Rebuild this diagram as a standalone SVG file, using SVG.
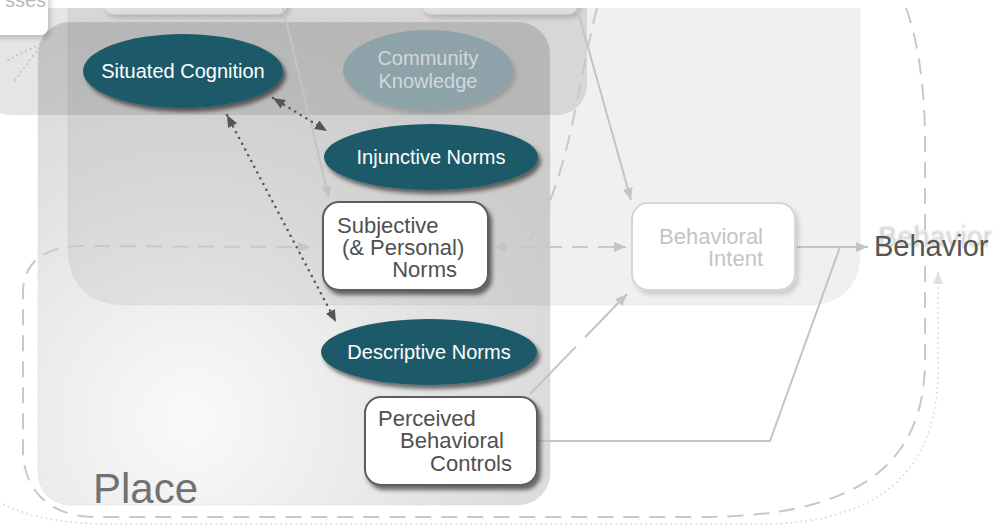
<svg xmlns="http://www.w3.org/2000/svg" width="998" height="527" viewBox="0 0 998 527">
<defs>
<style>
.t{font-family:"Liberation Sans",Arial,Helvetica,sans-serif}
.el{fill:#1e5a6a}
.elt{fill:#ffffff;font-size:20px;text-anchor:middle}
.box{fill:#ffffff;stroke:#5d5d5d;stroke-width:2}
.bt{fill:#505050;font-size:22px}
.dot{fill:none;stroke:#555;stroke-width:2.6;stroke-linecap:round;stroke-dasharray:0 6.5}
.lite{fill:none;stroke:#c4c4c4;stroke-width:2}
.dash{fill:none;stroke:#c8c8c8;stroke-width:2;stroke-dasharray:16 10}
</style>
<radialGradient id="gPlace" gradientUnits="userSpaceOnUse" cx="190" cy="420" r="400">
<stop offset="0" stop-color="#000" stop-opacity="0.02"/>
<stop offset="0.35" stop-color="#000" stop-opacity="0.07"/>
<stop offset="0.7" stop-color="#000" stop-opacity="0.12"/>
<stop offset="1" stop-color="#000" stop-opacity="0.15"/>
</radialGradient>
<filter id="sh" x="-20%" y="-20%" width="140%" height="150%">
<feDropShadow dx="3" dy="4" stdDeviation="2" flood-color="#000" flood-opacity="0.55"/>
</filter>
<filter id="shl" x="-20%" y="-20%" width="140%" height="150%">
<feDropShadow dx="3" dy="4" stdDeviation="2" flood-color="#000" flood-opacity="0.15"/>
</filter>
<filter id="blur" x="-10%" y="-50%" width="120%" height="200%">
<feGaussianBlur stdDeviation="1.3"/>
</filter>
<marker id="aD" viewBox="0 0 12 10" refX="12" refY="5" markerWidth="12" markerHeight="10" markerUnits="userSpaceOnUse" orient="auto-start-reverse">
<path d="M0,0 L12,5 L0,10 z" fill="#555"/>
</marker>
<marker id="aL" viewBox="0 0 12 10" refX="12" refY="5" markerWidth="12" markerHeight="10" markerUnits="userSpaceOnUse" orient="auto-start-reverse">
<path d="M0,0 L12,5 L0,10 z" fill="#c4c4c4"/>
</marker>
<marker id="aX" viewBox="0 0 12 10" refX="12" refY="5" markerWidth="12" markerHeight="10" markerUnits="userSpaceOnUse" orient="auto-start-reverse">
<path d="M0,0 L12,5 L0,10 z" fill="#e0e0e0"/>
</marker>
</defs>

<g id="regions">
<path id="region-social" d="M68 -20 L860 -20 L860 250 Q860 305 805 305 L128 305 Q68 305 68 245 Z" fill="#000" fill-opacity="0.06" stroke="#dcdcdc" stroke-width="1" stroke-dasharray="1 2"/>
<rect id="region-community" x="-20" y="-20" width="607" height="135" rx="30" fill="#000" fill-opacity="0.1"/>
<rect id="region-place" x="38" y="22" width="512" height="483" rx="32" fill="url(#gPlace)" stroke="#cfcfcf" stroke-width="1" stroke-dasharray="1 2"/>
<text class="t" x="93" y="503" font-size="42" fill="#727272">Place</text>
</g>

<g id="top-nodes">
<rect x="103" y="-30" width="184" height="44" rx="10" fill="#dedede" stroke="#d2d2d2" filter="url(#shl)"/>
<rect x="421" y="-30" width="157" height="44" rx="10" fill="#dedede" stroke="#d2d2d2" filter="url(#shl)"/>
</g>

<rect x="0" y="0" width="998" height="8" fill="#ffffff"/>

<g id="node-processes">
<rect x="-20" y="-20" width="68" height="55" rx="8" fill="#ffffff" filter="url(#shl)"/>
<text class="t" x="46" y="7" font-size="20" fill="#b8b8b8" text-anchor="end">sses</text>
</g>

<g id="connectors">
<path class="dash" d="M906 8 C918 40 925 90 925 140 L925 360 C925 470 850 517 700 517 L95 517 C50 517 23 490 23 450 L23 292 C23 265 42 247 78 246 L310 247" marker-end="url(#aL)"/>
<path d="M-5 500 C20 515 60 524 110 524 L760 524 C880 524 938 470 938 370 L938 272" fill="none" stroke="#dcdcdc" stroke-width="2" stroke-linecap="round" stroke-dasharray="0 5" marker-end="url(#aX)"/>
<path d="M44 42 L8 60 M42 44 L12 84" fill="none" stroke="#c0c0c0" stroke-width="2" stroke-linecap="round" stroke-dasharray="0 5"/>
<path class="lite" d="M283 8 L329 198" stroke="#b4b4b4" marker-end="url(#aL)"/>
<path class="lite" d="M577 8 L631 200" marker-end="url(#aL)"/>
<path class="dash" d="M597 8 C578 80 568 190 527 243"/>
<path class="dash" d="M494 247 L626 247" stroke-dasharray="14 9" marker-start="url(#aL)" marker-end="url(#aL)"/>
<path class="lite" d="M530 394 L627 294" stroke-dasharray="66 13 300" marker-end="url(#aL)"/>
<path class="lite" d="M797 247 L868 247" marker-end="url(#aL)"/>
<path class="lite" d="M537 441 L770 441 L840 247 L860 247"/>
<path class="dot" d="M273 98 L327 131" marker-start="url(#aD)" marker-end="url(#aD)"/>
<path class="dot" d="M227 115 L336 322" marker-start="url(#aD)" marker-end="url(#aD)"/>
</g>

<g id="node-situated-cognition">
<ellipse class="el" cx="183" cy="71" rx="100" ry="37" filter="url(#sh)"/>
<text class="t elt" x="183" y="78">Situated Cognition</text>
</g>

<g id="node-community-knowledge">
<ellipse cx="428" cy="70" rx="85" ry="40" fill="#8ea2aa" filter="url(#shl)"/>
<text class="t elt" x="428" y="65" style="fill:#d2d8db">Community</text>
<text class="t elt" x="428" y="88" style="fill:#d2d8db">Knowledge</text>
</g>

<g id="node-injunctive-norms">
<ellipse class="el" cx="431" cy="157" rx="107" ry="33" filter="url(#sh)"/>
<text class="t elt" x="431" y="164">Injunctive Norms</text>
</g>

<g id="node-subjective-norms">
<rect class="box" x="323" y="202" width="165" height="88" rx="16" filter="url(#sh)"/>
<text class="t bt" x="337" y="233">Subjective</text>
<text class="t bt" x="342" y="255">(&amp; Personal)</text>
<text class="t bt" x="457" y="277" text-anchor="end">Norms</text>
</g>

<g id="node-behavioral-intent">
<rect x="632" y="203" width="163" height="87" rx="16" fill="#ffffff" stroke="#d6d6d6" stroke-width="2" filter="url(#shl)"/>
<text class="t" x="763" y="244" font-size="22" fill="#c4c4c4" text-anchor="end">Behavioral</text>
<text class="t" x="763" y="266" font-size="22" fill="#c4c4c4" text-anchor="end">Intent</text>
</g>

<g id="node-descriptive-norms">
<ellipse class="el" cx="429" cy="352" rx="108" ry="33" filter="url(#sh)"/>
<text class="t elt" x="429" y="359">Descriptive Norms</text>
</g>

<g id="node-perceived-behavioral-controls">
<rect class="box" x="365" y="397" width="172" height="88" rx="16" filter="url(#sh)"/>
<text class="t bt" x="378" y="426">Perceived</text>
<text class="t bt" x="400" y="448">Behavioral</text>
<text class="t bt" x="512" y="471" text-anchor="end">Controls</text>
</g>

<g id="node-behavior">
<rect x="872" y="234" width="126" height="30" fill="#ffffff"/>
<text class="t" x="878" y="247" font-size="29" fill="#cccccc" filter="url(#blur)">Behavior</text>
<text class="t" x="874" y="256" font-size="29" fill="#555555">Behavior</text>
</g>
</svg>
